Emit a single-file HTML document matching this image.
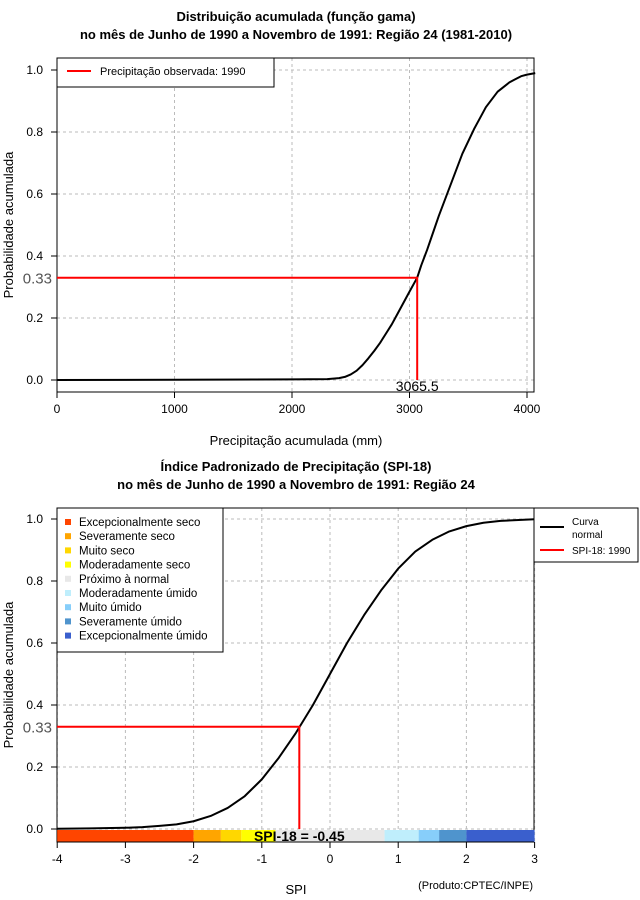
<!DOCTYPE html>
<html><head><meta charset="utf-8"><style>
body{margin:0;background:#fff}
svg{display:block;font-family:"Liberation Sans",sans-serif}
</style></head><body>
<svg id="c" width="640" height="900" viewBox="0 0 640 900">
<g font-weight="bold" font-size="13" text-anchor="middle">
<text x="296" y="21">Distribuição acumulada (função gama)</text>
<text x="296" y="39">no mês de Junho de 1990 a Novembro de 1991: Região 24 (1981-2010)</text>
</g>
<g font-weight="bold" font-size="13" text-anchor="middle">
<text x="296" y="471">Índice Padronizado de Precipitação (SPI-18)</text>
<text x="296" y="489">no mês de Junho de 1990 a Novembro de 1991: Região 24</text>
</g>
<g id="top"></g>
<g id="bot"></g>
</svg>
<script>
const NS="http://www.w3.org/2000/svg";
function mk(p,t,a,txt){const e=document.createElementNS(NS,t);for(const k in a)e.setAttribute(k,a[k]);if(txt!==undefined)e.textContent=txt;p.appendChild(e);return e;}

// ---- top chart data ----
const topX=[0,1000,2000,2300,2400,2450,2500,2550,2600,2650,2700,2750,2800,2850,2900,2950,3000,3065.5,3100,3150,3200,3250,3300,3350,3400,3450,3500,3550,3600,3650,3700,3750,3800,3850,3900,3950,4000,4070];
const topP=[0,0.001,0.002,0.003,0.006,0.01,0.018,0.03,0.048,0.07,0.094,0.12,0.15,0.18,0.215,0.25,0.285,0.33,0.37,0.42,0.475,0.53,0.58,0.63,0.68,0.73,0.77,0.81,0.845,0.88,0.905,0.93,0.945,0.96,0.97,0.98,0.985,0.99];
const topXTicks=[0,1000,2000,3000,4000];
const yTicks=[0,0.2,0.4,0.6,0.8,1.0];
const topObs=[3065.5];
const topObsP=[0.33];

// ---- bottom chart data ----
const spiX=[-4,-3.5,-3,-2.75,-2.5,-2.25,-2,-1.75,-1.5,-1.25,-1,-0.75,-0.5,-0.25,0,0.25,0.5,0.75,1,1.25,1.5,1.75,2,2.25,2.5,3];
const spiP=[0.001,0.002,0.004,0.006,0.01,0.015,0.025,0.042,0.068,0.106,0.16,0.23,0.31,0.4,0.5,0.6,0.69,0.77,0.84,0.895,0.933,0.96,0.977,0.988,0.994,0.999];
const spiTicks=[-4,-3,-2,-1,0,1,2,3];
const spiObs=[-0.45];
const spiObsP=[0.33];
const catNames=["Excepcionalmente seco","Severamente seco","Muito seco","Moderadamente seco","Próximo à normal","Moderadamente úmido","Muito úmido","Severamente úmido","Excepcionalmente úmido"];
const catFrom=[-4,-2,-1.6,-1.3,-0.8,0.8,1.3,1.6,2];
const catTo=[-2,-1.6,-1.3,-0.8,0.8,1.3,1.6,2,3];
const catColor=["#ff4500","#ffa500","#ffd700","#ffff00","#e8e8e8","#bfeefc","#87cefa","#4f94cd","#3a5fcd"];

function axes(g,L,R,T,B,xs,ys,xt,yt){
  xt.forEach(v=>{const l=mk(g,'line',{x1:xs(v),x2:xs(v),y1:T,y2:B,stroke:'#bbb','stroke-dasharray':'3,3'});});
  yt.forEach(v=>{const l=mk(g,'line',{x1:L,x2:R,y1:ys(v),y2:ys(v),stroke:'#bbb','stroke-dasharray':'3,3'});});
  const b=mk(g,'rect',{x:L,y:T,width:R-L,height:B-T,fill:'none',stroke:'#000'});
  
  xt.forEach(v=>{mk(g,'line',{x1:xs(v),x2:xs(v),y1:B,y2:B+6,stroke:'#000'});
    const t=mk(g,'text',{x:xs(v),y:B+21,'text-anchor':'middle','font-size':12},String(v));
    });
  yt.forEach(v=>{mk(g,'line',{x1:L-6,x2:L,y1:ys(v),y2:ys(v),stroke:'#000'});
    const t=mk(g,'text',{x:L-14,y:ys(v)+4,'text-anchor':'end','font-size':12},v.toFixed(1));
    });
}

// TOP
(function(){
  const g=document.getElementById('top');
  const L=57,R=534,T=58,B=392;
  const xs=v=>57+v*0.1175, ys=p=>380-p*310;
  axes(g,L,R,T,B,xs,ys,topXTicks,yTicks);
  const c=mk(g,'polyline',{points:topX.map((x,i)=>xs(x)+','+ys(topP[i])).join(' '),fill:'none',stroke:'#000','stroke-width':2,'stroke-linejoin':'round'});
  
  const ox=xs(topObs[0]),oy=ys(topObsP[0]);
  const r=mk(g,'polyline',{points:`${L},${oy} ${ox},${oy} ${ox},${ys(0)}`,fill:'none',stroke:'#f00','stroke-width':2});
  
  const a=mk(g,'text',{x:52,y:oy+6,'text-anchor':'end','font-size':15,fill:'#555'},topObsP[0].toFixed(2));
  
  const b=mk(g,'text',{x:ox,y:391,'text-anchor':'middle','font-size':14,fill:'#000'},String(topObs[0]));
  
  const xl=mk(g,'text',{x:296,y:445,'text-anchor':'middle','font-size':13},'Precipitação acumulada (mm)');
  
  const yl=mk(g,'text',{x:0,y:0,transform:'translate(13,225) rotate(-90)','text-anchor':'middle','font-size':13},'Probabilidade acumulada');
  
  const lg=mk(g,'g',{});
  mk(lg,'rect',{x:57,y:58,width:217,height:29,fill:'#fff',stroke:'#000'});
  mk(lg,'line',{x1:67,x2:91,y1:71,y2:71,stroke:'#f00','stroke-width':2});
  mk(lg,'text',{x:100,y:75,'font-size':11},'Precipitação observada: 1990');
})();

// BOTTOM
(function(){
  const g=document.getElementById('bot');
  const L=57,R=534,T=508,B=842;
  const xs=v=>330+v*68.2, ys=p=>829-p*310;
  axes(g,L,R,T,B,xs,ys,spiTicks,yTicks);
  catFrom.forEach((f,i)=>{const r=mk(g,'rect',{x:xs(f),y:830,width:xs(catTo[i])-xs(f),height:12,fill:catColor[i]});
    });
  mk(g,'line',{x1:L,x2:R,y1:842,y2:842,stroke:'#000'});
  const c=mk(g,'polyline',{points:spiX.map((x,i)=>xs(x)+','+ys(spiP[i])).join(' '),fill:'none',stroke:'#000','stroke-width':2,'stroke-linejoin':'round'});
  
  const ox=xs(spiObs[0]),oy=ys(spiObsP[0]);
  const r=mk(g,'polyline',{points:`${L},${oy} ${ox},${oy} ${ox},${ys(0)}`,fill:'none',stroke:'#f00','stroke-width':2});
  
  const a=mk(g,'text',{x:52,y:oy+6,'text-anchor':'end','font-size':15,fill:'#555'},spiObsP[0].toFixed(2));
  
  const v=mk(g,'text',{x:xs(spiObs[0]),y:841,'text-anchor':'middle','font-size':14,'font-weight':'bold'},'SPI-18 = '+spiObs[0].toFixed(2));
  
  const xl=mk(g,'text',{x:296,y:894,'text-anchor':'middle','font-size':13},'SPI');
  
  const src=mk(g,'text',{x:533,y:889,'text-anchor':'end','font-size':11},'(Produto:CPTEC/INPE)');
  
  const yl=mk(g,'text',{x:0,y:0,transform:'translate(13,675) rotate(-90)','text-anchor':'middle','font-size':13},'Probabilidade acumulada');
  
  const lg=mk(g,'g',{});
  mk(lg,'rect',{x:57,y:508,width:166,height:144,fill:'#fff',stroke:'#000'});
  catNames.forEach((n,i)=>{const y=522+i*14.2;
    const s=mk(lg,'rect',{x:65,y:y-3,width:6,height:6,fill:catColor[i]});
    
    const t=mk(lg,'text',{x:79,y:y+4,'font-size':11.5},n);
    });
  const lg2=mk(g,'g',{});
  mk(lg2,'rect',{x:534,y:508,width:104,height:54,fill:'#fff',stroke:'#000'});
  mk(lg2,'line',{x1:540,x2:564,y1:527,y2:527,stroke:'#000','stroke-width':2});
  mk(lg2,'text',{x:572,y:525,'font-size':10},'Curva');
  mk(lg2,'text',{x:572,y:538,'font-size':10},'normal');
  mk(lg2,'line',{x1:540,x2:564,y1:550,y2:550,stroke:'#f00','stroke-width':2});
  mk(lg2,'text',{x:572,y:554,'font-size':10},'SPI-18: 1990');
})();
</script>
</body></html>
